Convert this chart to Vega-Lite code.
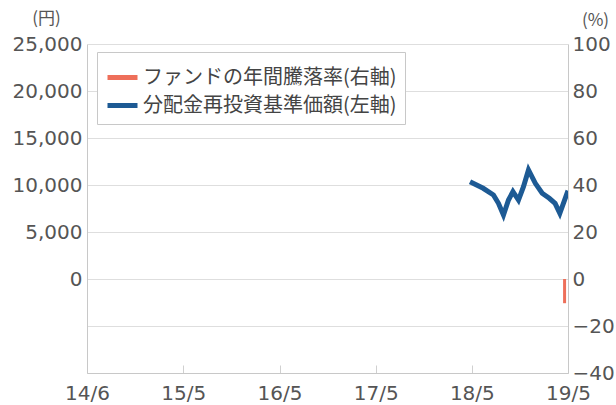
{
  "$schema": "https://vega.github.io/schema/vega-lite/v6.json",
  "autosize": "none",
  "width": 481,
  "height": 329,
  "padding": {"left": 87, "top": 44, "right": 48, "bottom": 32},
  "background": "white",
  "config": {
    "view": {"stroke": null},
    "font": "DejaVu Sans",
    "axis": {"labelColor": "#555", "labelFont": "DejaVu Sans", "labelFontSize": 20, "domainColor": "#c8c8c8", "gridColor": "#dedede", "titleColor": "#555", "titleFont": "Noto Sans CJK JP", "titleFontWeight": "normal", "titleFontSize": 17}
  },
  "datasets": {
    "nav": [
      {"date": "2018-05-24", "value": 10350, "series": "分配金再投資基準価額(左軸)"},
      {"date": "2018-07-13", "value": 9650, "series": "分配金再投資基準価額(左軸)"},
      {"date": "2018-08-21", "value": 8935, "series": "分配金再投資基準価額(左軸)"},
      {"date": "2018-09-09", "value": 8050, "series": "分配金再投資基準価額(左軸)"},
      {"date": "2018-09-28", "value": 6810, "series": "分配金再投資基準価額(左軸)"},
      {"date": "2018-10-17", "value": 8400, "series": "分配金再投資基準価額(左軸)"},
      {"date": "2018-11-03", "value": 9290, "series": "分配金再投資基準価額(左軸)"},
      {"date": "2018-11-24", "value": 8400, "series": "分配金再投資基準価額(左軸)"},
      {"date": "2018-12-13", "value": 9820, "series": "分配金再投資基準価額(左軸)"},
      {"date": "2019-01-01", "value": 11600, "series": "分配金再投資基準価額(左軸)"},
      {"date": "2019-01-27", "value": 10180, "series": "分配金再投資基準価額(左軸)"},
      {"date": "2019-02-22", "value": 9120, "series": "分配金再投資基準価額(左軸)"},
      {"date": "2019-03-21", "value": 8590, "series": "分配金再投資基準価額(左軸)"},
      {"date": "2019-04-12", "value": 8050, "series": "分配金再投資基準価額(左軸)"},
      {"date": "2019-04-30", "value": 6990, "series": "分配金再投資基準価額(左軸)"},
      {"date": "2019-05-31", "value": 9400, "series": "分配金再投資基準価額(左軸)"}
    ],
    "ret": [
      {"date": "2019-05-18", "pct": -10.3, "series": "ファンドの年間騰落率(右軸)"}
    ]
  },
  "layer": [
    {
      "data": {"name": "nav"},
      "mark": {"type": "line", "strokeWidth": 5, "strokeJoin": "miter", "clip": true},
      "encoding": {
        "x": {"field": "date", "type": "temporal",
          "scale": {"type": "utc", "padding": 0, "domain": [{"year": 2014, "month": 5, "date": 31, "utc": true}, {"year": 2019, "month": 5, "date": 31, "utc": true}]},
          "axis": {"title": null, "grid": false, "tickColor": "#d0d0d0", "tickSize": -8, "labelPadding": 18,
            "values": [{"year": 2014, "month": 5, "date": 31, "utc": true}, {"year": 2015, "month": 5, "date": 31, "utc": true}, {"year": 2016, "month": 5, "date": 31, "utc": true}, {"year": 2017, "month": 5, "date": 31, "utc": true}, {"year": 2018, "month": 5, "date": 31, "utc": true}, {"year": 2019, "month": 5, "date": 31, "utc": true}],
            "labelExpr": "utcFormat(datum.value, '%Y') == '2014' ? '14/6' : utcFormat(datum.value, '%y/%-m')",
            "labelFlush": false, "labelOverlap": false}},
        "y": {"field": "value", "type": "quantitative",
          "scale": {"domain": [-10000, 25000], "nice": false, "zero": false},
          "axis": {"orient": "left", "title": "(円)", "titleAngle": 0, "titleX": -41, "titleY": -26, "titleAlign": "center", "titleBaseline": "middle",
            "values": [-10000, -5000, 0, 5000, 10000, 15000, 20000, 25000],
            "labelExpr": "datum.value < 0 ? '' : format(datum.value, ',')",
            "ticks": false, "labelPadding": 5, "labelBaseline": "middle", "grid": true}},
        "color": {"field": "series", "type": "nominal",
          "scale": {"domain": ["ファンドの年間騰落率(右軸)", "分配金再投資基準価額(左軸)"], "range": ["#ee6f5a", "#1d5a94"]},
          "legend": {"title": null, "orient": "none", "legendX": 10, "legendY": 8, "symbolType": "stroke", "symbolSize": 900, "symbolStrokeWidth": 5,
            "labelFont": "Noto Sans CJK JP", "labelFontSize": 20, "labelColor": "#444", "labelLimit": 400, "labelOffset": 3,
            "padding": 8, "rowPadding": -2, "strokeColor": "#c8c8c8", "fillColor": "white"}}
      }
    },
    {
      "data": {"name": "ret"},
      "mark": {"type": "bar", "size": 3},
      "encoding": {
        "x": {"field": "date", "type": "temporal"},
        "y": {"field": "pct", "type": "quantitative",
          "scale": {"domain": [-40, 100], "nice": false, "zero": false},
          "axis": {"orient": "right", "title": "(%)", "titleAngle": 0, "titleX": 27, "titleY": -24, "titleAlign": "center", "titleBaseline": "middle",
            "values": [-40, -20, 0, 20, 40, 60, 80, 100], "ticks": false, "labelPadding": 4, "labelBaseline": "middle", "grid": false}},
        "y2": {"datum": 0},
        "color": {"field": "series", "type": "nominal"}
      }
    }
  ],
  "resolve": {"scale": {"y": "independent"}}
}
